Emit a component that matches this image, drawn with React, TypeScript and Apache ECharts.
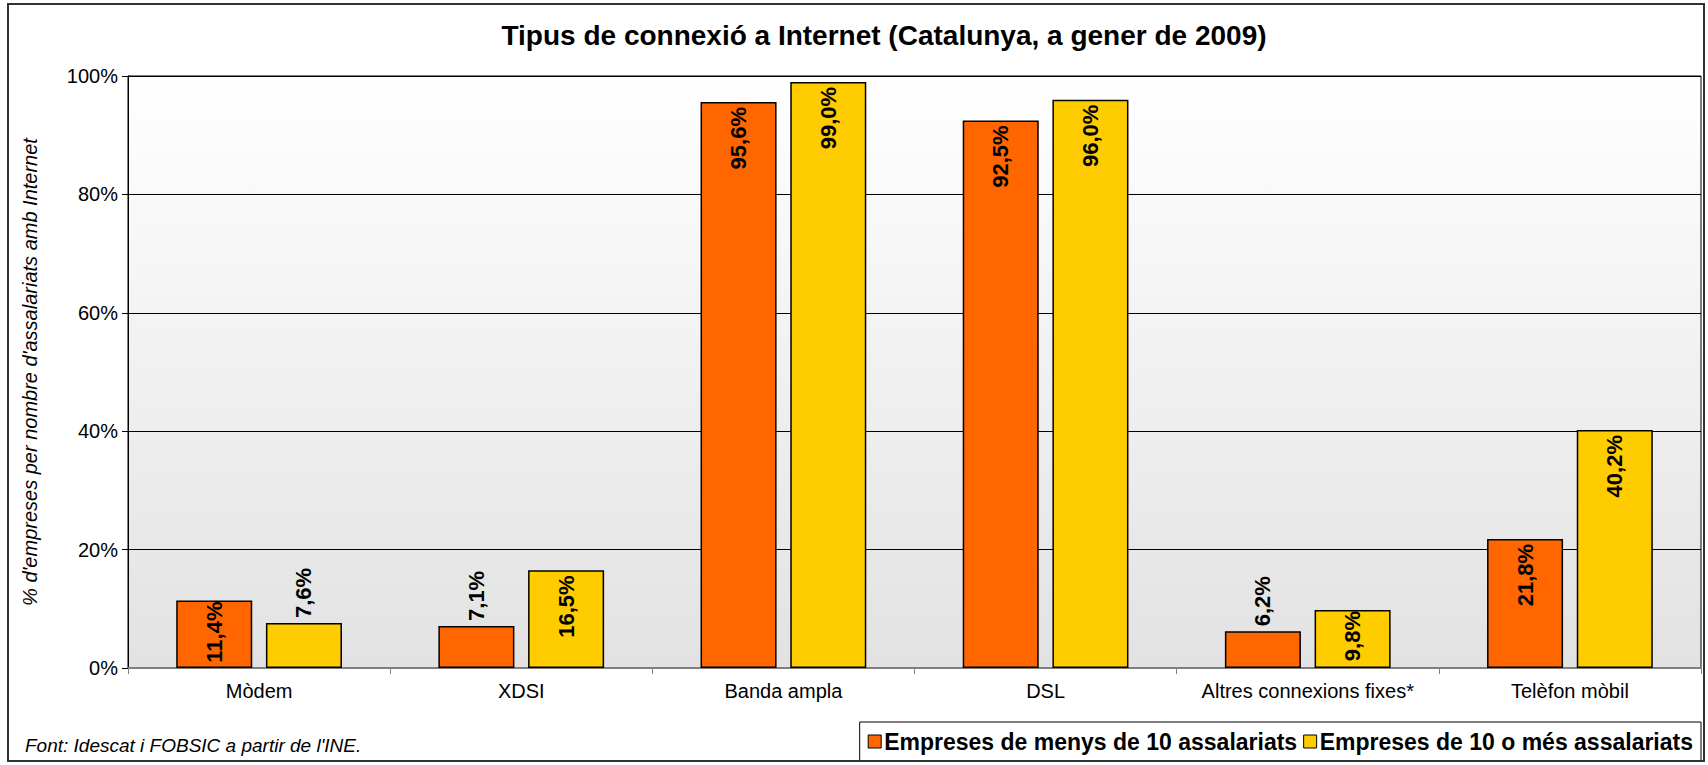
import React, { useEffect, useRef } from "react";
import * as echarts from "echarts";

const categories = ["Mòdem", "XDSI", "Banda ampla", "DSL", "Altres connexions fixes*", "Telèfon mòbil"];
const seriesNames = ["Empreses de menys de 10 assalariats", "Empreses de 10 o més assalariats"];
const smallFirms = [11.4, 7.1, 95.6, 92.5, 6.2, 21.8];
const largeFirms = [7.6, 16.5, 99.0, 96.0, 9.8, 40.2];
// label placement: true = inside the bar, false = above it
const smallInside = [true, false, true, true, false, true];
const largeInside = [false, true, true, true, true, true];
const yTicks = [0, 20, 40, 60, 80, 100];

const fmt = (v: number) => v.toFixed(1).replace(".", ",") + "%";

function buildData(values: number[], inside: boolean[]) {
  return values.map((v, i) => ({
    value: v,
    label: inside[i]
      ? { position: "insideTop", distance: v < 15 ? 1 : 5, align: "right", verticalAlign: "middle" }
      : { position: "top", distance: 5, align: "left", verticalAlign: "middle" },
  }));
}

export default function App() {
  const ref = useRef<HTMLDivElement>(null);
  useEffect(() => {
    document.body.style.margin = "0";
    document.body.style.overflow = "hidden";
    const chart = echarts.init(ref.current!, null, { renderer: "svg" });
    const font = "'Liberation Sans', Arial, sans-serif";
    const barLabel = {
      show: true,
      rotate: 90,
      fontSize: 22,
      fontWeight: "bold",
      fontFamily: font,
      color: "#000",
      formatter: (p: any) => fmt(p.value),
    };
    chart.setOption({
      animation: false,
      backgroundColor: "#fff",
      textStyle: { fontFamily: font },
      title: [
        {
          text: "Tipus de connexió a Internet (Catalunya, a gener de 2009)",
          left: 879,
          textAlign: "center",
          top: 16,
          textStyle: { fontSize: 28, fontWeight: "bold", color: "#000", fontFamily: font },
        },
        {
          text: "Font: Idescat i FOBSIC a partir de l'INE.",
          left: 20,
          top: 731,
          textStyle: { fontSize: 19, fontStyle: "italic", fontWeight: "normal", color: "#000", fontFamily: font },
        },
      ],
      graphic: [
        {
          type: "rect",
          shape: { x: 8, y: 4, width: 1696, height: 757 },
          style: { fill: "none", stroke: "#333", lineWidth: 2 },
          silent: true,
          z: 100,
        },
      ],
      legend: {
        right: 7,
        bottom: 4,
        data: seriesNames,
        icon: "rect",
        itemWidth: 13,
        itemHeight: 13,
        itemGap: 6,
        padding: [8, 8],
        borderColor: "#000",
        borderWidth: 1,
        backgroundColor: "#fff",
        itemStyle: { borderColor: "#000", borderWidth: 1 },
        textStyle: { fontSize: 23, fontWeight: "bold", color: "#000", fontFamily: font, padding: [0, 0, 0, -2] },
      },
      grid: {
        left: 128,
        right: 7,
        top: 76,
        bottom: 97,
        show: true,
        borderColor: "#000",
        borderWidth: 1,
        backgroundColor: new echarts.graphic.LinearGradient(0, 0, 0, 1, [
          { offset: 0, color: "#ffffff" },
          { offset: 1, color: "#e2e2e2" },
        ]),
      },
      xAxis: {
        type: "category",
        data: categories,
        axisLine: { lineStyle: { color: "#808080", width: 2 } },
        axisTick: { show: true, length: 6, lineStyle: { color: "#808080", width: 1 } },
        axisLabel: { interval: 0, fontSize: 20, color: "#000", margin: 13, fontFamily: font },
      },
      yAxis: {
        type: "value",
        min: yTicks[0],
        max: yTicks[yTicks.length - 1],
        interval: 20,
        name: "% d'empreses per nombre d'assalariats amb Internet",
        nameLocation: "middle",
        nameGap: 88,
        nameTextStyle: { fontSize: 20, fontStyle: "italic", color: "#000", fontFamily: font },
        axisLine: { show: true, lineStyle: { color: "#000", width: 1 } },
        axisTick: { show: true, length: 6, lineStyle: { color: "#000" } },
        axisLabel: { fontSize: 20, color: "#000", margin: 10, formatter: (v: number) => v + "%", fontFamily: font },
        splitLine: { show: true, lineStyle: { color: "#000", width: 1 } },
      },
      series: [
        {
          name: seriesNames[0],
          type: "bar",
          data: buildData(smallFirms, smallInside),
          barWidth: "29%",
          barGap: "18%",
          itemStyle: { color: "#FF6600", borderColor: "#000", borderWidth: 1.5 },
          label: barLabel,
        },
        {
          name: seriesNames[1],
          type: "bar",
          data: buildData(largeFirms, largeInside),
          barWidth: "29%",
          itemStyle: { color: "#FFCC00", borderColor: "#000", borderWidth: 1.5 },
          label: barLabel,
        },
      ],
    });
    return () => chart.dispose();
  }, []);
  return <div ref={ref} style={{ width: 1708, height: 765 }} />;
}
